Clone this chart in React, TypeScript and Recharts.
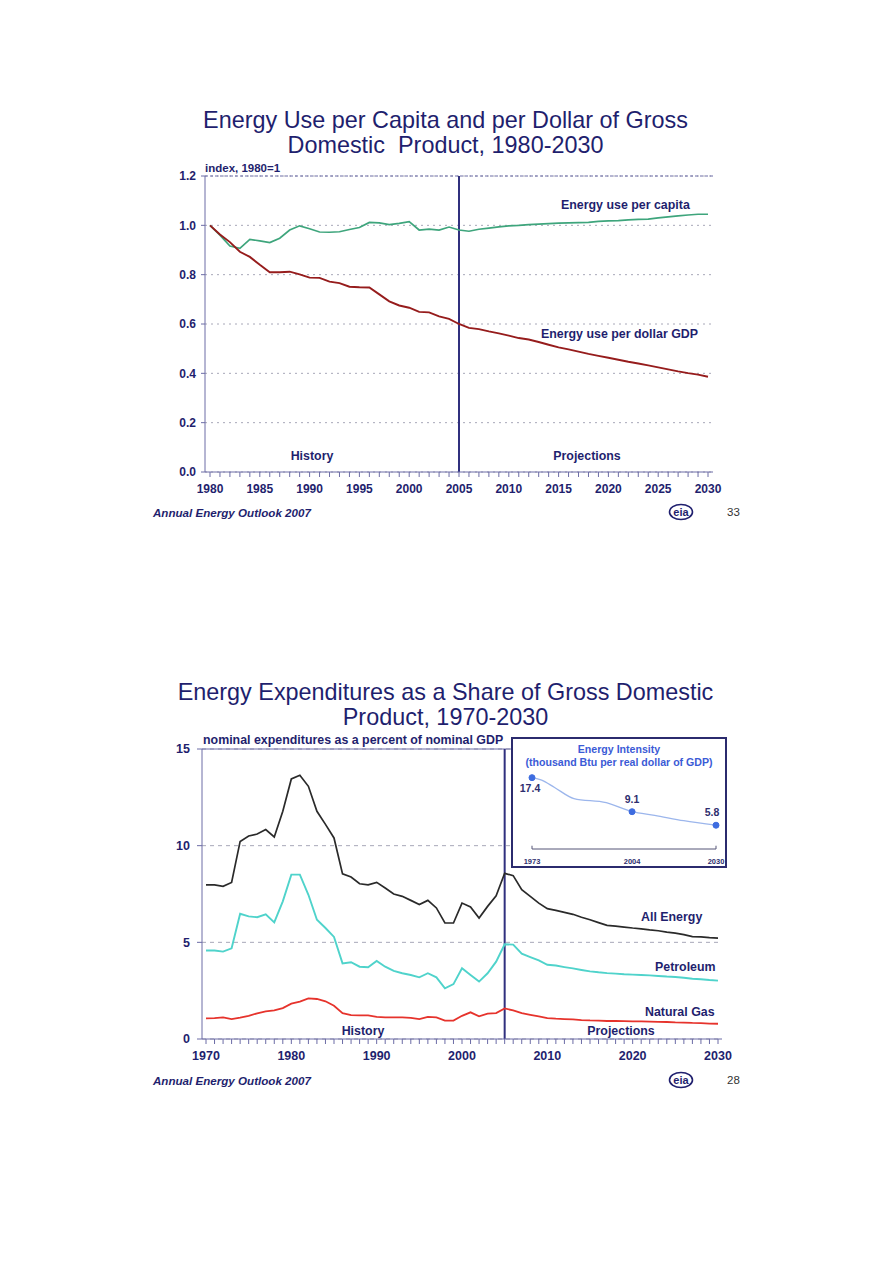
import React from 'react';
import { LineChart, Line, XAxis, YAxis, CartesianGrid, ReferenceLine } from 'recharts';

const FONT = '"Liberation Sans", Arial, Helvetica, sans-serif';
const NAVY = '#1f1f6e';
const AXIS = '#6c6ca6';

// ---------- Chart 1: Energy use per capita / per dollar GDP (index 1980=1) ----------
const topYears: number[] = Array.from({ length: 51 }, (_, i) => 1980 + i);
const perCapita: number[] = [
  1.0, 0.96, 0.916, 0.907, 0.943, 0.937, 0.93, 0.948, 0.981, 0.998,
  0.986, 0.973, 0.972, 0.974, 0.983, 0.991, 1.012, 1.01, 1.003, 1.008,
  1.015, 0.981, 0.985, 0.981, 0.993, 0.981, 0.976, 0.984, 0.989, 0.994,
  0.998, 1.0, 1.003, 1.005, 1.007, 1.009, 1.01, 1.011, 1.012, 1.016,
  1.018, 1.019, 1.022, 1.024, 1.025, 1.03, 1.034, 1.038, 1.042, 1.045, 1.045,
];
const perDollarGDP: number[] = [
  1.0, 0.963, 0.932, 0.893, 0.872, 0.84, 0.81, 0.81, 0.812, 0.801,
  0.788, 0.787, 0.772, 0.766, 0.751, 0.749, 0.748, 0.72, 0.692, 0.675,
  0.666, 0.649, 0.647, 0.631, 0.621, 0.6, 0.584, 0.579, 0.57, 0.562,
  0.553, 0.543, 0.537, 0.527, 0.516, 0.505, 0.497, 0.488, 0.479, 0.471,
  0.463, 0.455, 0.447, 0.44, 0.432, 0.424, 0.416, 0.408, 0.401, 0.395, 0.386,
];
const topYTicks = [0, 0.2, 0.4, 0.6, 0.8, 1.0, 1.2];
const topData = topYears.map((year, i) => ({ year, capita: perCapita[i], gdp: perDollarGDP[i] }));

// ---------- Chart 2: Energy expenditures as share of GDP ----------
const botYears: number[] = Array.from({ length: 61 }, (_, i) => 1970 + i);
const allEnergy: number[] = [
  7.97, 7.97, 7.9, 8.1, 10.22, 10.5, 10.6, 10.83, 10.45, 11.78,
  13.45, 13.64, 13.07, 11.78, 11.1, 10.4, 8.54, 8.38, 8.03, 7.97,
  8.1, 7.81, 7.5, 7.38, 7.17, 6.95, 7.17, 6.78, 6.0, 6.0,
  7.03, 6.83, 6.26, 6.86, 7.41, 8.57, 8.45, 7.72, 7.38, 7.03,
  6.74, 6.65, 6.55, 6.45, 6.3, 6.17, 6.02, 5.88, 5.84, 5.79,
  5.74, 5.7, 5.64, 5.6, 5.53, 5.48, 5.4, 5.3, 5.28, 5.24, 5.22,
];
const petroleum: number[] = [
  4.58, 4.58, 4.52, 4.69, 6.48, 6.34, 6.3, 6.45, 6.03, 7.12,
  8.5, 8.5, 7.46, 6.17, 5.74, 5.28, 3.91, 3.97, 3.74, 3.71,
  4.04, 3.74, 3.52, 3.4, 3.31, 3.19, 3.4, 3.19, 2.62, 2.84,
  3.66, 3.31, 2.97, 3.4, 4.0, 4.9, 4.88, 4.41, 4.24, 4.07,
  3.84, 3.8, 3.72, 3.65, 3.57, 3.5, 3.45, 3.41, 3.38, 3.35,
  3.33, 3.31, 3.29, 3.26, 3.23, 3.21, 3.17, 3.12, 3.09, 3.05, 3.02,
];
const naturalGas: number[] = [
  1.07, 1.08, 1.12, 1.03, 1.1, 1.2, 1.33, 1.43, 1.48, 1.6,
  1.83, 1.93, 2.1, 2.07, 1.95, 1.72, 1.34, 1.24, 1.22, 1.22,
  1.14, 1.12, 1.12, 1.12, 1.09, 1.03, 1.14, 1.12, 0.95, 0.95,
  1.2, 1.38, 1.17, 1.31, 1.34, 1.58, 1.48, 1.34, 1.25, 1.17,
  1.08, 1.05, 1.03, 1.01, 0.98, 0.96, 0.95, 0.93, 0.93, 0.92,
  0.91, 0.91, 0.9, 0.89, 0.88, 0.86, 0.85, 0.83, 0.82, 0.8, 0.79,
];
const botYTicks = [0, 5, 10, 15];
const botData = botYears.map((year, i) => ({ year, all: allEnergy[i], pet: petroleum[i], gas: naturalGas[i] }));

// ---------- Inset: Energy intensity ----------
const insetYears: number[] = [1973, 1976, 1980, 1986, 1996, 2004, 2011, 2020, 2030];
const insetValues: number[] = [17.4, 16.8, 15.0, 12.3, 11.3, 9.1, 8.2, 6.9, 5.8];
const insetMarked: number[] = [1973, 2004, 2030];
const insetData = insetYears.map((year, i) => ({ year, v: insetValues[i] }));

const tickStyle = { fill: NAVY, fontSize: 12, fontWeight: 'bold' as const, fontFamily: FONT };
const tickStyleB = { fill: NAVY, fontSize: 12.5, fontWeight: 'bold' as const, fontFamily: FONT };

function Txt({ x, y, children, anchor = 'start', style = {} }: any) {
  const tx = anchor === 'middle' ? '-50%' : anchor === 'end' ? '-100%' : '0';
  return (
    <div
      style={{
        position: 'absolute', left: x, top: y, transform: `translate(${tx}, -50%)`,
        whiteSpace: 'nowrap', fontFamily: FONT, fontSize: 12.4, fontWeight: 'bold', color: NAVY,
        lineHeight: 1, ...style,
      }}
    >
      {children}
    </div>
  );
}

function EiaLogo({ x, y }: { x: number; y: number }) {
  return (
    <svg style={{ position: 'absolute', left: x, top: y }} width={26} height={18}>
      <ellipse cx={13} cy={9} rx={11.5} ry={7.5} fill="none" stroke={NAVY} strokeWidth={1.6} />
      <text x={13} y={12.5} textAnchor="middle" fontFamily={FONT} fontWeight="bold" fontSize={11} fill={NAVY}>eia</text>
    </svg>
  );
}

const InsetDot = (props: any) => {
  const { cx, cy, payload } = props;
  if (!insetMarked.includes(payload.year)) return <g key={props.key} />;
  return <circle key={props.key} cx={cx} cy={cy} r={3} fill="#3d6ce0" stroke="#3d6ce0" />;
};

const InsetLabel = (props: any) => {
  const { x, y, index } = props;
  const year = insetYears[index];
  if (!insetMarked.includes(year)) return null;
  const val = insetValues[index].toFixed(1);
  const dx = year === 1973 ? -2 : year === 2030 ? -4 : 0;
  const dy = year === 1973 ? 14 : -9;
  return (
    <text x={x + dx} y={y + dy} textAnchor="middle" fontFamily={FONT} fontWeight="bold" fontSize={10.5} fill="#2e2e6e">
      {val}
    </text>
  );
};

export default function App() {
  return (
    <div style={{ position: 'absolute', left: 0, top: 0, width: 893, height: 1263, background: '#fff', fontFamily: FONT }}>
      {/* ---------- Chart 1 ---------- */}
      <div style={{ position: 'absolute', left: 0, top: 108, width: 891, textAlign: 'center', fontSize: 23.4, lineHeight: '25px', color: NAVY, fontFamily: FONT }}>
        Energy Use per Capita and per Dollar of Gross<br />Domestic&nbsp; Product, 1980-2030
      </div>
      <Txt x={205} y={169} style={{ fontSize: 11.5 }}>index, 1980=1</Txt>
      <div style={{ position: 'absolute', left: 150, top: 150 }}>
        <LineChart width={600} height={350} data={topData} margin={{ top: 26, right: 37, bottom: 3, left: 0 }}>
          <CartesianGrid vertical={false} stroke="#a8a8b8" strokeDasharray="2 4" />
          <XAxis
            dataKey="year" type="number" domain={[1980, 2030]} ticks={topYears} interval={0}
            padding={{ left: 5, right: 5 }}
            tickFormatter={(v: number) => (v % 5 === 0 ? String(v) : '')}
            height={25} tickSize={5} tickMargin={7} stroke={AXIS} tick={tickStyle}
          />
          <YAxis
            domain={[0, 1.2]} ticks={topYTicks} interval={0} width={55} tickSize={4} tickMargin={5}
            tickFormatter={(v: number) => v.toFixed(1)} stroke={AXIS} tick={tickStyle}
          />
          <YAxis yAxisId="r" orientation="right" width={0} tick={false} tickLine={false} stroke={AXIS} />
          <ReferenceLine y={1.2} stroke={AXIS} strokeDasharray="3 2" />
          <ReferenceLine x={2005} stroke="#30307e" strokeWidth={2} />
          <Line dataKey="capita" stroke="#3ea57c" strokeWidth={1.7} dot={false} isAnimationActive={false} />
          <Line dataKey="gdp" stroke="#961c1c" strokeWidth={1.9} dot={false} isAnimationActive={false} />
        </LineChart>
      </div>
      <Txt x={561} y={205}>Energy use per capita</Txt>
      <Txt x={541} y={334}>Energy use per dollar GDP</Txt>
      <Txt x={312} y={456} anchor="middle">History</Txt>
      <Txt x={587} y={456} anchor="middle">Projections</Txt>
      <Txt x={153} y={513} style={{ fontStyle: 'italic', fontSize: 11.6 }}>Annual Energy Outlook 2007</Txt>
      <EiaLogo x={668} y={503} />
      <Txt x={727} y={513} style={{ fontWeight: 'normal', color: '#333', fontSize: 11.5 }}>33</Txt>

      {/* ---------- Chart 2 ---------- */}
      <div style={{ position: 'absolute', left: 0, top: 680, width: 891, textAlign: 'center', fontSize: 23.4, lineHeight: '25px', color: NAVY, fontFamily: FONT }}>
        Energy Expenditures as a Share of Gross Domestic<br />Product, 1970-2030
      </div>
      <Txt x={203} y={740}>nominal expenditures as a percent of nominal GDP</Txt>
      <div style={{ position: 'absolute', left: 140, top: 720 }}>
        <LineChart width={620} height={350} data={botData} margin={{ top: 29, right: 38, bottom: 6, left: 0 }}>
          <CartesianGrid vertical={false} stroke="#a8a8b8" strokeDasharray="4 4" />
          <XAxis
            dataKey="year" type="number" domain={[1970, 2030]} ticks={botYears} interval={0}
            padding={{ left: 4, right: 4 }}
            tickFormatter={(v: number) => (v % 10 === 0 ? String(v) : '')}
            height={25} tickSize={5} tickMargin={7} stroke={AXIS} tick={tickStyleB}
          />
          <YAxis
            domain={[0, 15]} ticks={botYTicks} interval={0} width={62} tickSize={5} tickMargin={7}
            stroke={AXIS} tick={tickStyleB}
          />
          <YAxis yAxisId="r" orientation="right" width={0} tick={false} tickLine={false} stroke={AXIS} />
          <ReferenceLine y={15} stroke={AXIS} />
          <ReferenceLine x={2005} stroke="#30307e" strokeWidth={2} />
          <Line dataKey="all" stroke="#2a2a2a" strokeWidth={1.7} dot={false} isAnimationActive={false} />
          <Line dataKey="pet" stroke="#4fd3cb" strokeWidth={1.9} dot={false} isAnimationActive={false} />
          <Line dataKey="gas" stroke="#e6332c" strokeWidth={1.8} dot={false} isAnimationActive={false} />
        </LineChart>
      </div>
      <Txt x={641} y={917}>All Energy</Txt>
      <Txt x={655} y={967}>Petroleum</Txt>
      <Txt x={645} y={1012}>Natural Gas</Txt>
      <Txt x={363} y={1031} anchor="middle">History</Txt>
      <Txt x={621} y={1031} anchor="middle">Projections</Txt>

      {/* Inset */}
      <div style={{ position: 'absolute', left: 511, top: 737, width: 216, height: 131, boxSizing: 'border-box', border: '2px solid #2b2b6e', background: '#fff' }}>
        <div style={{ position: 'absolute', left: 0, width: 212, top: 4, textAlign: 'center', fontFamily: FONT, fontWeight: 'bold', fontSize: 10.6, lineHeight: '13px', color: '#3b5bd6' }}>
          Energy Intensity<br />(thousand Btu per real dollar of GDP)
        </div>
        <div style={{ position: 'absolute', left: 0, top: 0 }}>
          <LineChart width={212} height={127} data={insetData} margin={{ top: 28, right: 9, bottom: 3, left: 19 }}>
            <XAxis
              dataKey="year" type="number" domain={[1973, 2030]} ticks={insetMarked} interval={0}
              height={14} tickSize={0} tickMargin={10} stroke="#555577" tickLine={false}
              tick={{ fill: '#2e2e6e', fontSize: 7.5, fontWeight: 'bold', fontFamily: FONT }}
            />
            <YAxis hide domain={[0, 20]} />
            <ReferenceLine segment={[{ x: 1973, y: 0 }, { x: 1973, y: 0.8 }]} stroke="#555577" />
            <ReferenceLine segment={[{ x: 2030, y: 0 }, { x: 2030, y: 0.8 }]} stroke="#555577" />
            <Line
              type="monotone" dataKey="v" stroke="#9cb6ec" strokeWidth={1.3} dot={InsetDot} label={InsetLabel}
              isAnimationActive={false}
            />
          </LineChart>
        </div>
      </div>

      <Txt x={153} y={1081} style={{ fontStyle: 'italic', fontSize: 11.6 }}>Annual Energy Outlook 2007</Txt>
      <EiaLogo x={668} y={1071} />
      <Txt x={727} y={1081} style={{ fontWeight: 'normal', color: '#333', fontSize: 11.5 }}>28</Txt>
    </div>
  );
}
